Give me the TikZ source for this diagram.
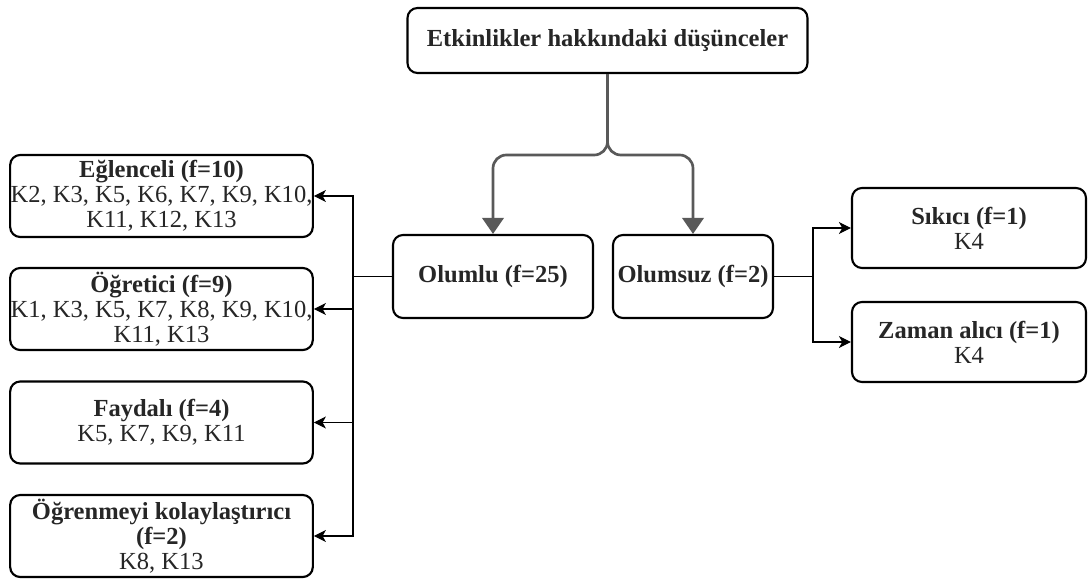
\documentclass[tikz,border=0pt]{standalone}
\usepackage{fontspec}
\setmainfont{Liberation Serif}
\usetikzlibrary{arrows.meta}

\begin{document}
\begin{tikzpicture}[x=0.75pt,y=-0.75pt,
		box/.style = {draw,line width=1.6pt,rounded corners=7.5pt,align=center,inner sep=0pt,text=black!85,font=\fontsize{18.4pt}{18.6pt}\selectfont},
		kbox/.style = {box,minimum width=227pt,minimum height=61.5pt},
		rbox/.style = {box,minimum width=175.5pt,minimum height=60pt},
		arr/.style = {line width=0.8pt,-{Stealth[length=9pt,width=9pt,inset=2.5pt]}},
		grayarr/.style = {draw=black!65,line width=2pt,rounded corners=10pt,-{Triangle[length=12pt,width=16pt,fill=black!65]}}
		]
		\useasboundingbox (0,0) rectangle (1089,581);
		%ANA KUTU
		\node[box,minimum width=300pt,minimum height=48.75pt] (top) at (607.5,40.5) {\textbf{Etkinlikler hakkındaki düşünceler}};
		\node[box,minimum width=150pt,minimum height=62.25pt] (olumlu) at (493,276.5) {\textbf{Olumlu (f=25)}};
		\node[box,minimum width=120pt,minimum height=62.25pt] (olumsuz) at (693,276.5) {\textbf{Olumsuz (f=2)}};
		%OLUMLU
		\node[kbox] (eglenceli) at (161.5,196) {\textbf{Eğlenceli (f=10)}\\K2, K3, K5, K6, K7, K9, K10,\\K11, K12, K13};
		\node[kbox] (ogretici) at (161.5,309) {\textbf{Öğretici (f=9)}\\K1, K3, K5, K7, K8, K9, K10,\\K11, K13};
		\node[kbox] (faydali) at (161.5,422.5) {\textbf{Faydalı (f=4)}\\K5, K7, K9, K11};
		\node[kbox] (ogrenme) at (161.5,536) {\textbf{Öğrenmeyi kolaylaştırıcı}\\\textbf{(f=2)}\\K8, K13};
		%OLUMSUZ
		\node[rbox] (sikici) at (969,228) {\textbf{Sıkıcı (f=1)}\\K4};
		\node[rbox] (zaman) at (969,342) {\textbf{Zaman alıcı (f=1)}\\K4};
		%Dallar
		\coordinate (split) at (607.5,155);
		\coordinate (lj) at (353,276.5);
		\coordinate (rj) at (813,276.5);
		\draw[grayarr] (top.south) -- (split) -| (olumlu.north);
		\draw[grayarr] (top.south) -- (split) -| (olumsuz.north);
		\draw[arr] (olumlu.west) -- (lj) |- (eglenceli.east);
		\draw[arr] (olumlu.west) -- (lj) |- (ogretici.east);
		\draw[arr] (olumlu.west) -- (lj) |- (faydali.east);
		\draw[arr] (olumlu.west) -- (lj) |- (ogrenme.east);
		\draw[arr] (olumsuz.east) -- (rj) |- (sikici.west);
		\draw[arr] (olumsuz.east) -- (rj) |- (zaman.west);
	\end{tikzpicture}
\end{document}
